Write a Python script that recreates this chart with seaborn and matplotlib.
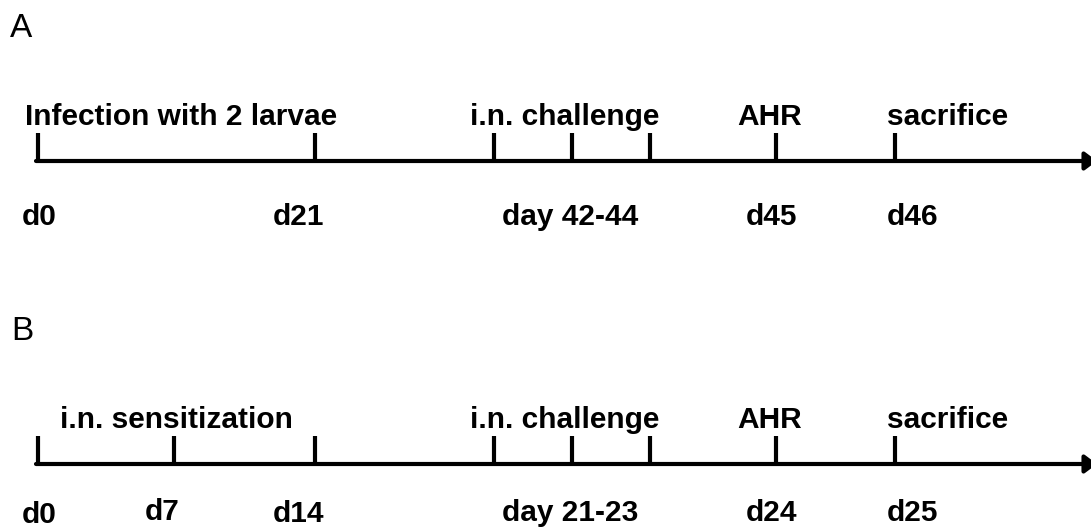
import matplotlib
matplotlib.use("Agg")
import matplotlib.pyplot as plt
import seaborn as sns

sns.set_theme(style="white")
plt.rcParams['font.family'] = ['Liberation Sans', 'DejaVu Sans']
plt.rcParams['text.color'] = 'black'

# panel A: helminth infection protocol
a_top_labels = ["Infection with 2 larvae", "i.n. challenge", "AHR", "sacrifice"]
a_bottom_labels = ["d0", "d21", "day 42-44", "d45", "d46"]
a_ticks = [38, 315, 494, 572, 650, 776, 895]

# panel B: sensitization protocol
b_top_labels = ["i.n. sensitization", "i.n. challenge", "AHR", "sacrifice"]
b_bottom_labels = ["d0", "d7", "d14", "day 21-23", "d24", "d25"]
b_ticks = [38, 174, 315, 494, 572, 650, 776, 895]

# schematic layout (pixels of the 1091x528 canvas)
a_top_x = [25, 470, 737, 887]
a_bot_x = [22, 273, 502, 746, 887]
b_top_x = [60, 470, 737, 887]
b_bot_x = [22, 145, 273, 502, 746, 887]
b_bot_y = [523, 520, 522, 521, 521, 521]

fig = plt.figure(figsize=(10.91, 5.28), dpi=100)
ax = fig.add_axes([0, 0, 1, 1])
ax.set_xlim(0, 1091)
ax.set_ylim(528, 0)
ax.axis('off')

fs = 21.5


def timeline(y, ticks):
    ax.annotate("", xy=(1097, y), xytext=(36, y), annotation_clip=False,
                arrowprops=dict(arrowstyle='-|>,head_length=0.6,head_width=0.45',
                                lw=3.0, color='black', shrinkA=0, shrinkB=0))
    ax.vlines(ticks, y - 28, y, colors='black', lw=3.0)


timeline(161, a_ticks)
timeline(464, b_ticks)

ax.text(10, 37, "A", fontsize=24, ha='left', va='baseline')
ax.text(11, 340, "B", fontsize=24, ha='left', va='baseline')

for lab, x in zip(a_top_labels, a_top_x):
    ax.text(x, 125, lab, fontsize=fs, fontweight='bold', ha='left', va='baseline')
for lab, x in zip(a_bottom_labels, a_bot_x):
    ax.text(x, 225, lab, fontsize=fs, fontweight='bold', ha='left', va='baseline')
for lab, x in zip(b_top_labels, b_top_x):
    ax.text(x, 428, lab, fontsize=fs, fontweight='bold', ha='left', va='baseline')
for lab, x, y in zip(b_bottom_labels, b_bot_x, b_bot_y):
    ax.text(x, y, lab, fontsize=fs, fontweight='bold', ha='left', va='baseline')

fig.savefig("out.png", dpi=100)
